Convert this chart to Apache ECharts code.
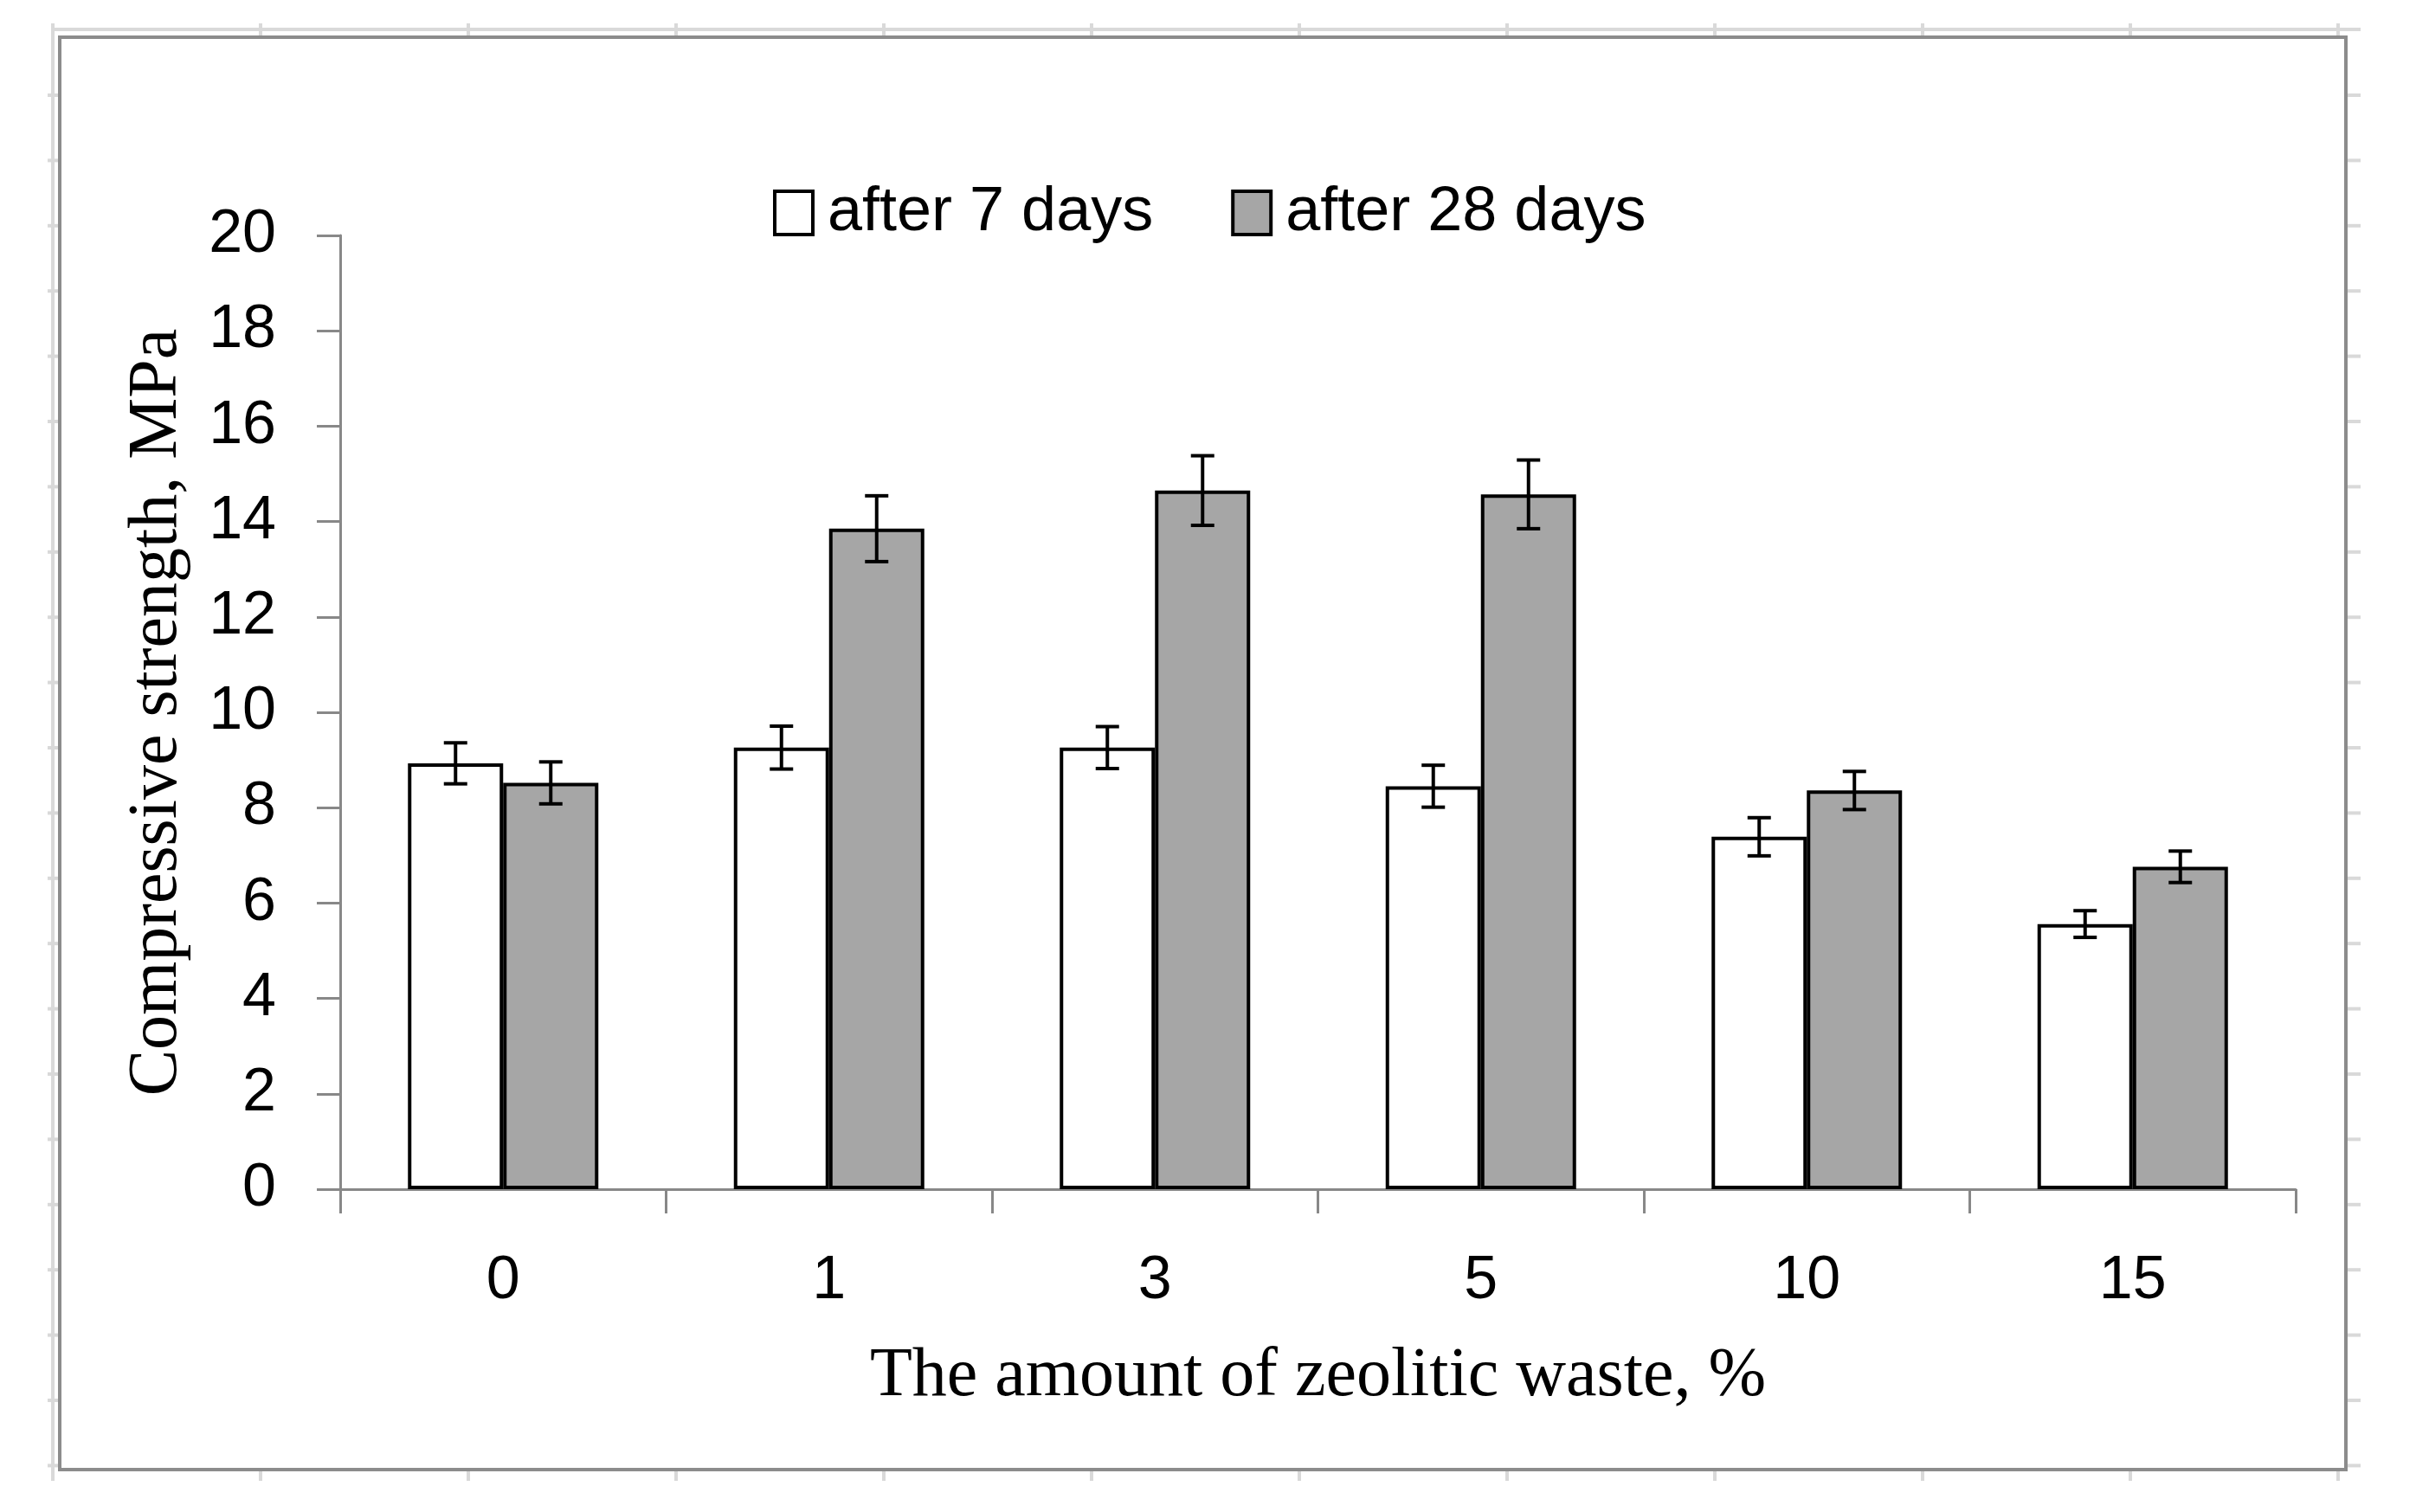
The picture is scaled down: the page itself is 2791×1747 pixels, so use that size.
<!DOCTYPE html>
<html>
<head>
<meta charset="utf-8">
<title>Compressive strength</title>
<script src="https://cdn.jsdelivr.net/npm/echarts@6/dist/echarts.min.js"></script>
<style>
  html, body { margin: 0; padding: 0; background: #fff; }
  #main { width: 2791px; height: 1747px; }
</style>
</head>
<body>
<div id="main"></div>
<script>
// amount of zeolitic waste, %
var categories = ['0', '1', '3', '5', '10', '15'];
// compressive strength, MPa
var after7 = [8.93, 9.26, 9.26, 8.45, 7.39, 5.56];
var after28 = [8.52, 13.85, 14.65, 14.57, 8.36, 6.76];
// error bar half heights
var err7 = [0.43, 0.45, 0.44, 0.44, 0.40, 0.28];
var err28 = [0.44, 0.69, 0.73, 0.72, 0.40, 0.33];
// y axis ticks
var yMin = 0, yMax = 20, yStep = 2;

var BAR_W = 110;
var AXIS_GREY = '#888888';
var SANS = 'Liberation Sans';
var SERIF = 'Liberation Serif';

function errData(vals, errs) {
  return vals.map(function (v, i) { return [i, v - errs[i], v + errs[i]]; });
}

// error bars drawn over the grouped bars
function errorBars(offset) {
  return function (params, api) {
    var lo = api.coord([api.value(0), api.value(1)]);
    var hi = api.coord([api.value(0), api.value(2)]);
    var x = lo[0] + offset;
    var half = 13.5;
    var st = { stroke: '#000', lineWidth: 4 };
    return {
      type: 'group',
      children: [
        { type: 'line', shape: { x1: x, y1: hi[1], x2: x, y2: lo[1] }, style: st },
        { type: 'line', shape: { x1: x - half, y1: hi[1], x2: x + half, y2: hi[1] }, style: st },
        { type: 'line', shape: { x1: x - half, y1: lo[1], x2: x + half, y2: lo[1] }, style: st }
      ]
    };
  };
}

// chart frame + the light grey sheet marks around it
var deco = [];
var light = { stroke: '#d9d9d9', lineWidth: 4 };
deco.push({ type: 'line', silent: true, shape: { x1: 61, y1: 34, x2: 2727, y2: 34 }, style: light });
deco.push({ type: 'line', silent: true, shape: { x1: 61, y1: 34, x2: 61, y2: 1711 }, style: light });
for (var k = 0; k < 12; k++) {
  var cx = 61 + 240 * k;
  deco.push({ type: 'line', silent: true, shape: { x1: cx, y1: 27, x2: cx, y2: 41 }, style: light });
  deco.push({ type: 'line', silent: true, shape: { x1: cx, y1: 1698, x2: cx, y2: 1711 }, style: light });
}
for (var r = 0; r < 22; r++) {
  var ry = 110 + 75.4 * r;
  deco.push({ type: 'line', silent: true, shape: { x1: 55, y1: ry, x2: 69, y2: ry }, style: light });
  deco.push({ type: 'line', silent: true, shape: { x1: 2712, y1: ry, x2: 2727, y2: ry }, style: light });
}
deco.push({
  type: 'rect', silent: true,
  shape: { x: 69, y: 43, width: 2641, height: 1655 },
  style: { fill: 'none', stroke: '#8c8c8c', lineWidth: 4 }
});

var chart = echarts.init(document.getElementById('main'));
chart.setOption({
  backgroundColor: '#fff',
  animation: false,
  graphic: deco,
  legend: {
    data: ['after 7 days', 'after 28 days'],
    left: 888,
    top: 205,
    icon: 'rect',
    itemWidth: 44,
    itemHeight: 50,
    itemGap: 90,
    itemStyle: { borderWidth: 4 },
    textStyle: { fontFamily: SANS, fontSize: 72, color: '#000', padding: [0, 0, 0, 12] }
  },
  grid: { left: 393, right: 139, top: 272, bottom: 373, containLabel: false },
  xAxis: {
    type: 'category',
    data: categories,
    name: 'The amount of zeolitic waste, %',
    nameLocation: 'middle',
    nameGap: 177,
    nameTextStyle: { fontFamily: SERIF, fontSize: 80, color: '#000' },
    axisLine: { lineStyle: { color: AXIS_GREY, width: 3 } },
    axisTick: { show: true, length: 28, lineStyle: { color: AXIS_GREY, width: 3 } },
    axisLabel: { margin: 72, fontFamily: SANS, fontSize: 70, color: '#000' }
  },
  yAxis: {
    type: 'value',
    min: yMin,
    max: yMax,
    interval: yStep,
    name: 'Compressive strength, MPa',
    nameLocation: 'middle',
    nameGap: 171,
    nameTextStyle: { fontFamily: SERIF, fontSize: 80, color: '#000' },
    axisLine: { show: true, lineStyle: { color: AXIS_GREY, width: 3 } },
    axisTick: { show: true, length: 27, lineStyle: { color: AXIS_GREY, width: 3 } },
    axisLabel: { margin: 74, fontFamily: SANS, fontSize: 70, color: '#000' },
    splitLine: { show: false }
  },
  series: [
    {
      name: 'after 7 days',
      type: 'bar',
      data: after7,
      barWidth: BAR_W,
      barGap: '0%',
      itemStyle: { color: '#ffffff', borderColor: '#000', borderWidth: 4 }
    },
    {
      name: 'after 28 days',
      type: 'bar',
      data: after28,
      barWidth: BAR_W,
      barGap: '0%',
      itemStyle: { color: '#a6a6a6', borderColor: '#000', borderWidth: 4 }
    },
    {
      type: 'custom',
      renderItem: errorBars(-BAR_W / 2),
      encode: { x: 0, y: [1, 2] },
      data: errData(after7, err7),
      z: 5
    },
    {
      type: 'custom',
      renderItem: errorBars(BAR_W / 2),
      encode: { x: 0, y: [1, 2] },
      data: errData(after28, err28),
      z: 5
    }
  ]
});
</script>
</body>
</html>
